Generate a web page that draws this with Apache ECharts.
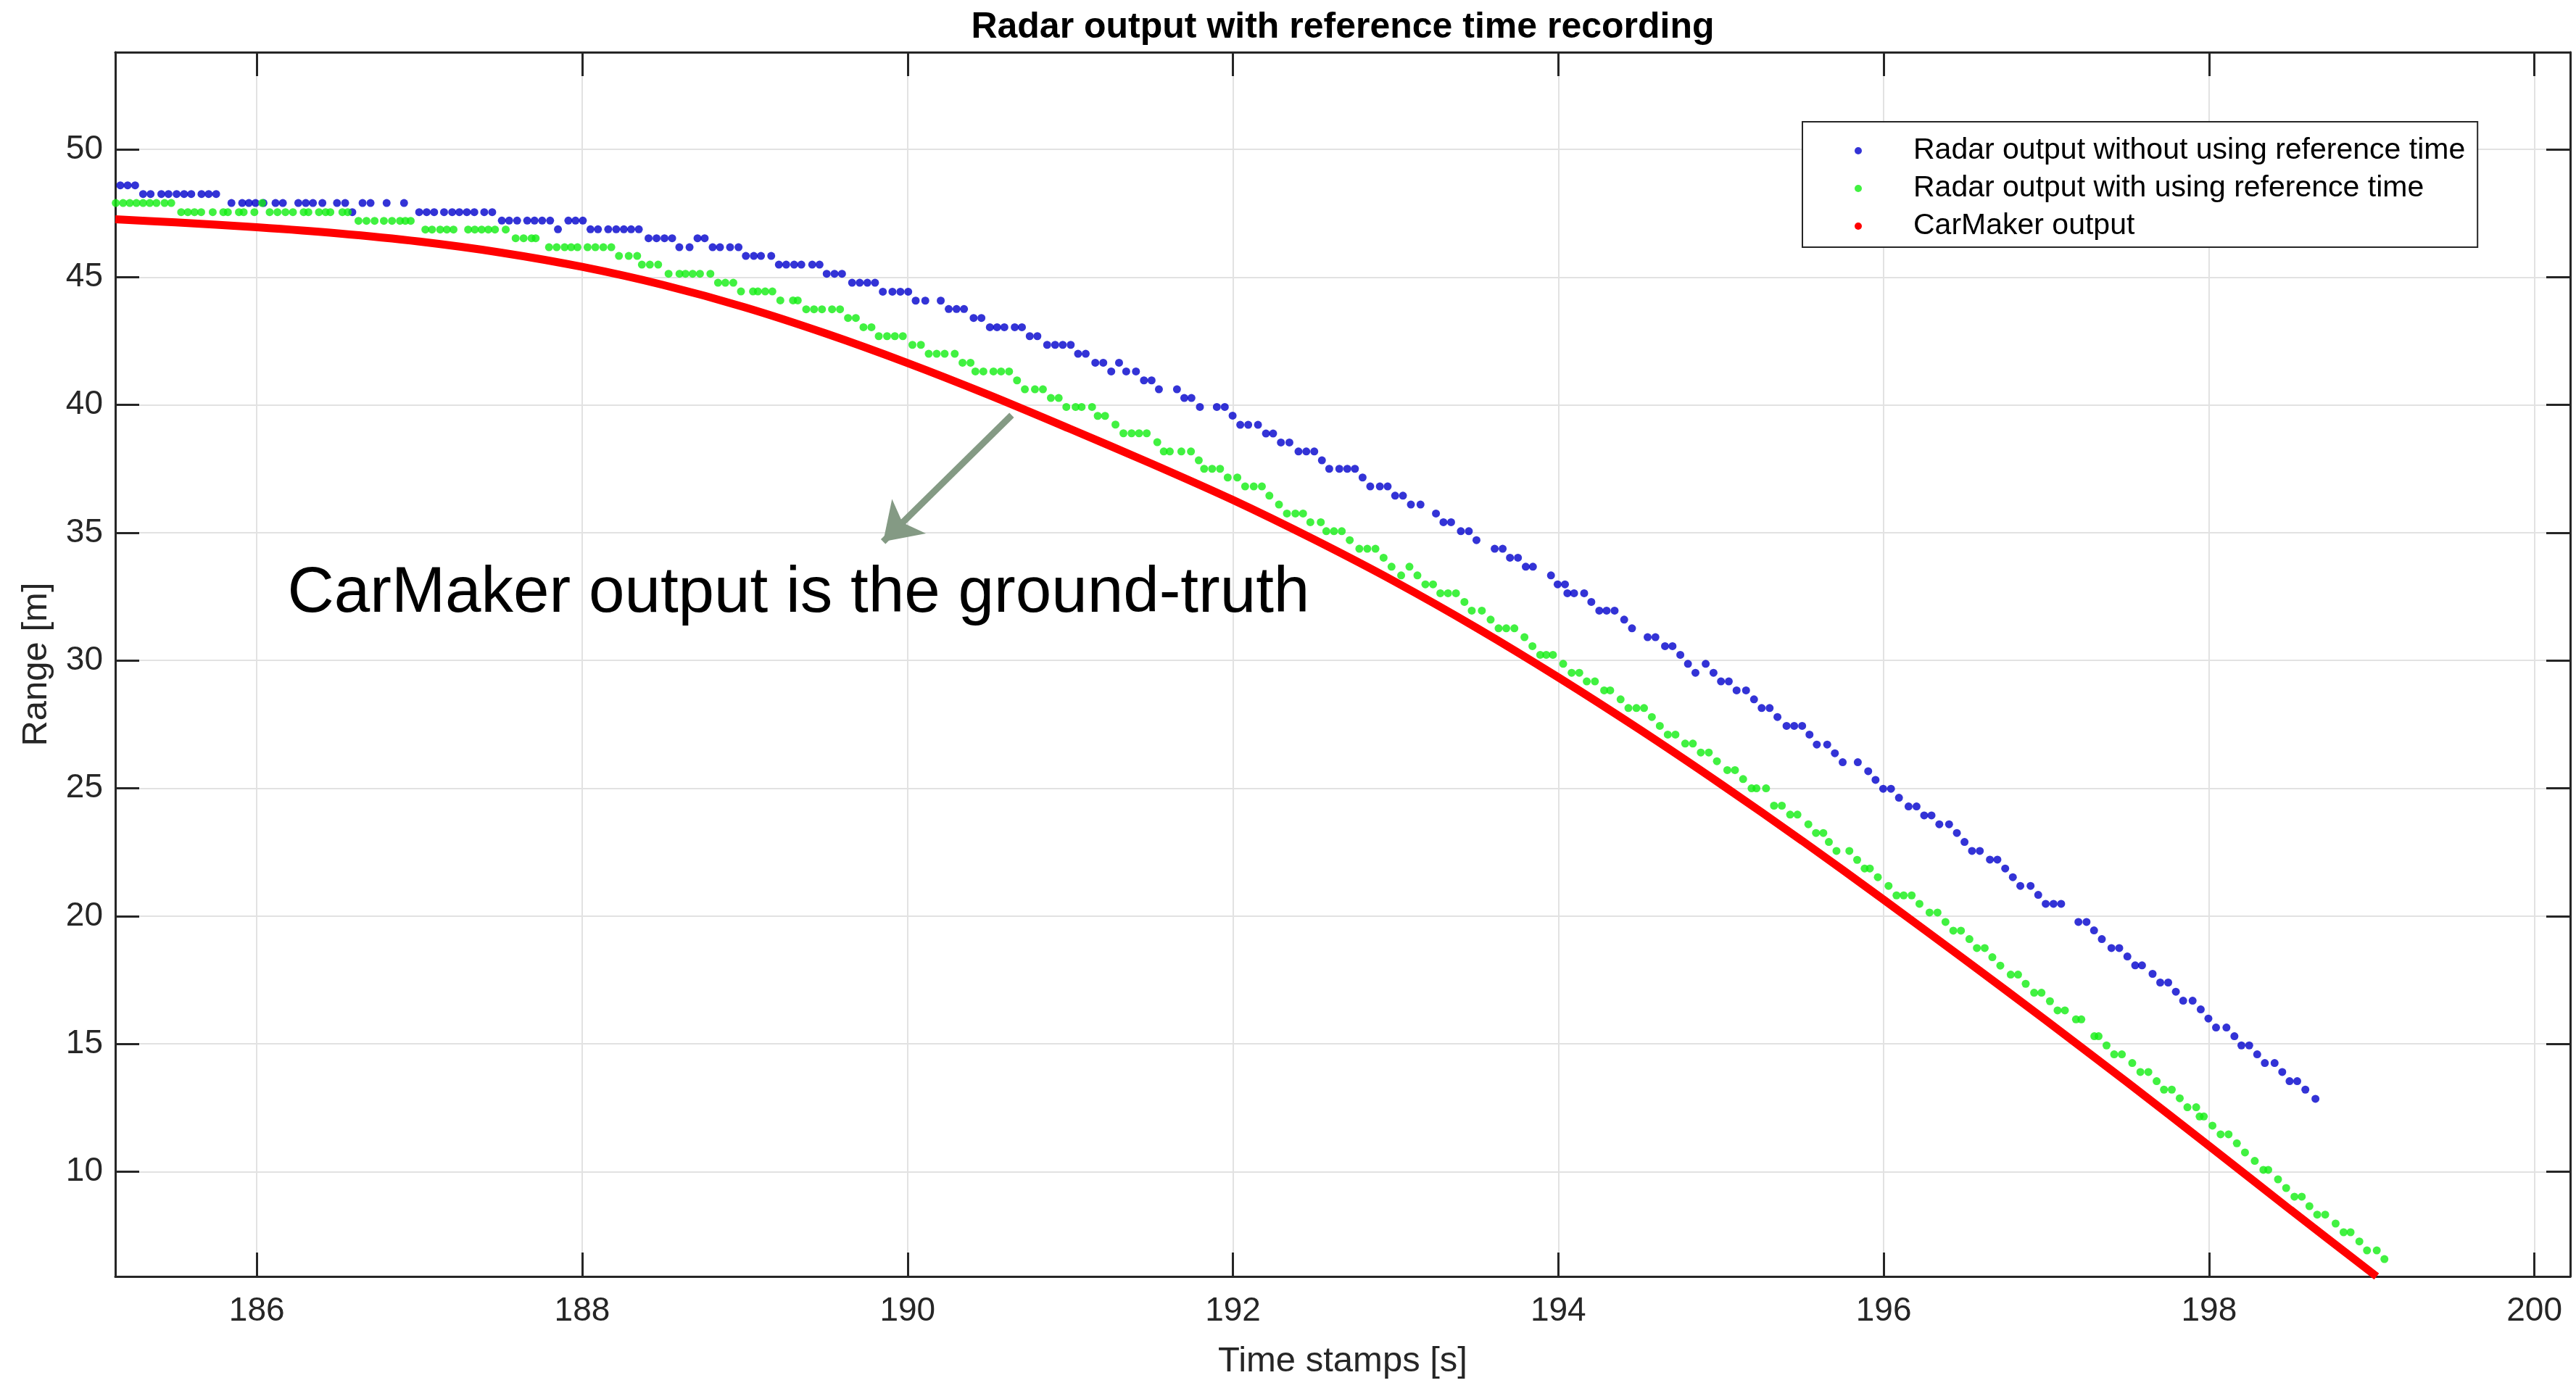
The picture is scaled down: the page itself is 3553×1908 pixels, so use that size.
<!DOCTYPE html>
<html><head><meta charset="utf-8">
<script src="https://cdn.jsdelivr.net/npm/echarts@6/dist/echarts.min.js"></script>
<style>html,body{margin:0;padding:0;background:#fff}#c{width:3553px;height:1908px}</style>
</head><body><div id="c"></div>
<script>
const chartTitle = 'Radar output with reference time recording';
const xName = 'Time stamps [s]';
const yName = 'Range [m]';
const seriesNames = ['Radar output without using reference time', 'Radar output with using reference time', 'CarMaker output'];
const annotationText = 'CarMaker output is the ground-truth';
const xLimits = [185.13, 200.22];
const yLimits = [5.9, 53.8];
const xTicks = [186, 188, 190, 192, 194, 196, 198, 200];
const yTicks = [10, 15, 20, 25, 30, 35, 40, 45, 50];
const annotationAnchor = [189.33, 32.6];
const arrowTail = [190.64, 39.6];
const arrowHead = [189.85, 34.65];

// [time s, range m]
const radarNoRef = [
[185.161,48.59],[185.206,48.59],[185.252,48.59],
[185.301,48.25],[185.347,48.25],[185.413,48.25],[185.457,48.25],[185.507,48.25],[185.553,48.25],[185.597,48.25],[185.660,48.25],[185.704,48.25],[185.750,48.25],
[185.844,47.90],[185.910,47.90],[185.951,47.90],[185.992,47.90],[186.041,47.90],[186.115,47.90],[186.160,47.90],[186.255,47.90],[186.301,47.90],[186.345,47.90],[186.403,47.90],[186.493,47.90],[186.543,47.90],[186.650,47.90],[186.699,47.90],[186.798,47.90],[186.905,47.90],
[186.587,47.54],[186.998,47.54],[187.044,47.54],[187.090,47.54],[187.151,47.54],[187.201,47.54],[187.245,47.54],[187.291,47.54],[187.337,47.54],[187.398,47.54],[187.447,47.54],
[187.506,47.21],[187.551,47.21],[187.600,47.21],[187.662,47.21],[187.707,47.21],[187.754,47.21],[187.803,47.21],[187.915,47.21],[187.959,47.21],[188.004,47.21],
[187.851,46.87],[188.051,46.87],[188.097,46.87],[188.160,46.87],[188.209,46.87],[188.256,46.87],[188.301,46.87],[188.348,46.87],
[188.408,46.52],[188.457,46.52],[188.506,46.52],[188.553,46.52],[188.709,46.52],[188.753,46.52],
[188.597,46.17],[188.660,46.17],[188.802,46.17],[188.847,46.17],[188.909,46.17],[188.961,46.17],
[189.006,45.83],[189.055,45.83],[189.099,45.83],[189.162,45.83],
[189.209,45.49],[189.254,45.49],[189.303,45.49],[189.347,45.49],[189.414,45.49],[189.459,45.49],
[189.503,45.13],[189.551,45.13],[189.597,45.13],
[189.659,44.78],[189.706,44.78],[189.753,44.78],[189.800,44.78],
[189.848,44.43],[189.907,44.43],[189.956,44.43],[190.004,44.43],
[190.050,44.08],[190.109,44.08],[190.204,44.08],
[190.253,43.75],[190.301,43.75],[190.347,43.75],
[190.406,43.40],[190.454,43.40],
[190.506,43.04],[190.550,43.04],[190.595,43.04],[190.659,43.04],[190.703,43.04],
[190.751,42.69],[190.798,42.69],
[190.858,42.35],[190.907,42.35],[190.954,42.35],[191.003,42.35],
[191.048,42.00],[191.095,42.00],
[191.154,41.65],[191.203,41.65],[191.300,41.65],
[191.252,41.31],[191.344,41.31],[191.404,41.31],
[191.453,40.96],[191.500,40.96],
[191.545,40.61],[191.656,40.61],
[191.701,40.27],[191.745,40.27],
[191.797,39.92],[191.901,39.92],[191.950,39.92],
[191.998,39.58],
[192.045,39.22],[192.094,39.22],[192.154,39.22],
[192.203,38.88],[192.247,38.88],
[192.295,38.53],[192.347,38.53],
[192.403,38.18],[192.451,38.18],[192.500,38.18],
[192.547,37.83],
[192.592,37.50],[192.654,37.50],[192.703,37.50],[192.750,37.50],
[192.797,37.16],
[192.844,36.81],[192.903,36.81],[192.951,36.81],
[192.997,36.45],[193.045,36.45],
[193.094,36.10],[193.153,36.10],
[193.248,35.75],
[193.294,35.41],[193.341,35.41],
[193.401,35.06],[193.450,35.06],
[193.497,34.71],
[193.609,34.37],[193.658,34.37],
[193.703,34.02],[193.752,34.02],
[193.800,33.67],[193.844,33.67],
[193.955,33.33],
[193.996,32.98],[194.041,32.98],
[194.056,32.63],[194.097,32.63],[194.159,32.63],
[194.203,32.29],
[194.252,31.95],[194.297,31.95],[194.346,31.95],
[194.405,31.60],
[194.453,31.26],
[194.549,30.91],[194.597,30.91],
[194.656,30.56],[194.702,30.56],
[194.750,30.22],
[194.797,29.87],[194.906,29.87],
[194.843,29.52],[194.954,29.52],
[195.000,29.18],[195.048,29.18],
[195.096,28.83],[195.154,28.83],
[195.203,28.48],
[195.250,28.14],[195.299,28.14],
[195.347,27.79],
[195.403,27.44],[195.450,27.44],[195.499,27.44],
[195.544,27.10],
[195.589,26.71],[195.653,26.71],
[195.700,26.37],
[195.748,26.02],[195.841,26.02],
[195.905,25.67],
[195.950,25.33],
[195.997,24.98],[196.045,24.98],
[196.094,24.63],
[196.153,24.29],[196.202,24.29],
[196.249,23.94],[196.294,23.94],
[196.342,23.59],[196.402,23.59],
[196.450,23.25],
[196.497,22.90],
[196.543,22.55],[196.591,22.55],
[196.653,22.21],[196.699,22.21],
[196.747,21.86],
[196.794,21.52],
[196.840,21.18],[196.903,21.18],
[196.950,20.83],
[196.996,20.48],[197.044,20.48],[197.091,20.48],
[197.197,19.77],[197.247,19.77],
[197.293,19.44],
[197.341,19.10],
[197.400,18.75],[197.448,18.75],
[197.498,18.42],
[197.546,18.07],[197.588,18.07],
[197.653,17.74],
[197.700,17.40],[197.749,17.40],
[197.796,17.04],
[197.841,16.69],[197.899,16.69],
[197.949,16.35],
[197.996,15.99],
[198.043,15.64],[198.107,15.64],
[198.156,15.30],
[198.199,14.94],[198.247,14.94],
[198.296,14.59],
[198.343,14.25],[198.403,14.25],
[198.450,13.90],
[198.495,13.54],[198.542,13.54],
[198.592,13.21],
[198.654,12.85]
];

const radarRef = [
[185.133,47.90],[185.178,47.90],[185.219,47.90],[185.260,47.90],[185.301,47.90],[185.342,47.90],[185.383,47.90],[185.433,47.90],[185.474,47.90],[186.033,47.90],
[185.535,47.54],[185.576,47.54],[185.617,47.54],[185.658,47.54],[185.729,47.54],[185.794,47.54],[185.822,47.54],[185.890,47.54],[185.919,47.54],[185.985,47.54],[186.079,47.54],[186.127,47.54],[186.176,47.54],[186.222,47.54],[186.288,47.54],[186.317,47.54],[186.382,47.54],[186.423,47.54],[186.452,47.54],[186.526,47.54],[186.559,47.54],
[186.625,47.20],[186.674,47.20],[186.724,47.20],[186.781,47.20],[186.831,47.20],[186.880,47.20],[186.913,47.20],[186.946,47.20],
[187.036,46.86],[187.077,46.86],[187.127,46.86],[187.168,46.86],[187.209,46.86],[187.299,46.86],[187.340,46.86],[187.382,46.86],[187.423,46.86],[187.464,46.86],[187.530,46.86],
[187.591,46.52],[187.640,46.52],[187.689,46.52],[187.714,46.52],
[187.796,46.17],[187.843,46.17],[187.892,46.17],[187.932,46.17],[187.971,46.17],[188.033,46.17],[188.081,46.17],[188.130,46.17],[188.179,46.17],
[188.226,45.83],[188.286,45.83],[188.338,45.83],
[188.367,45.49],[188.416,45.49],[188.467,45.49],
[188.531,45.13],[188.598,45.13],[188.635,45.13],[188.679,45.13],[188.724,45.13],[188.788,45.13],
[188.835,44.78],[188.880,44.78],[188.929,44.78],
[188.976,44.44],[189.050,44.44],[189.080,44.44],[189.125,44.44],[189.169,44.44],
[189.218,44.09],[189.296,44.09],[189.325,44.09],
[189.377,43.74],[189.425,43.74],[189.474,43.74],[189.536,43.74],[189.585,43.74],
[189.634,43.40],[189.682,43.40],
[189.729,43.04],[189.778,43.04],
[189.823,42.69],[189.874,42.69],[189.922,42.69],[189.971,42.69],
[190.030,42.35],[190.082,42.35],
[190.130,42.00],[190.179,42.00],[190.228,42.00],[190.290,42.00],
[190.338,41.65],[190.387,41.65],
[190.417,41.31],[190.466,41.31],[190.528,41.31],[190.575,41.31],[190.624,41.31],
[190.673,40.96],
[190.721,40.61],[190.783,40.61],[190.832,40.61],
[190.881,40.27],[190.929,40.27],
[190.976,39.92],[191.033,39.92],[191.070,39.92],[191.134,39.92],
[191.169,39.57],[191.214,39.57],
[191.278,39.23],
[191.327,38.89],[191.377,38.89],[191.423,38.89],[191.470,38.89],
[191.535,38.54],
[191.575,38.18],[191.612,38.18],[191.683,38.18],[191.742,38.18],
[191.790,37.83],
[191.823,37.50],[191.872,37.50],[191.921,37.50],
[191.968,37.16],[192.027,37.16],
[192.075,36.81],[192.128,36.81],[192.178,36.81],
[192.224,36.45],
[192.283,36.10],
[192.332,35.75],[192.384,35.75],[192.431,35.75],
[192.476,35.41],[192.540,35.41],
[192.574,35.06],[192.621,35.06],[192.669,35.06],
[192.718,34.71],
[192.777,34.37],[192.826,34.37],[192.876,34.37],
[192.926,34.02],
[192.975,33.67],[193.085,33.67],
[193.034,33.33],[193.134,33.33],
[193.183,32.98],[193.230,32.98],
[193.275,32.63],[193.322,32.63],[193.371,32.63],
[193.423,32.29],
[193.468,31.95],[193.530,31.95],
[193.584,31.60],
[193.633,31.26],[193.680,31.26],[193.730,31.26],
[193.792,30.91],
[193.841,30.56],
[193.889,30.22],[193.926,30.22],[193.967,30.22],
[194.030,29.87],
[194.082,29.52],[194.129,29.52],
[194.175,29.18],[194.225,29.18],
[194.282,28.83],[194.319,28.83],
[194.383,28.48],
[194.431,28.14],[194.480,28.14],[194.527,28.14],
[194.575,27.79],
[194.624,27.44],
[194.673,27.10],[194.720,27.10],
[194.780,26.75],[194.827,26.75],
[194.876,26.40],[194.925,26.40],
[194.975,26.06],
[195.039,25.71],[195.086,25.71],
[195.136,25.36],
[195.188,25.00],[195.218,25.00],[195.277,25.00],
[195.326,24.32],[195.374,24.32],
[195.425,23.97],[195.470,23.97],
[195.537,23.59],
[195.584,23.25],[195.629,23.25],
[195.663,22.90],
[195.710,22.55],[195.789,22.55],
[195.837,22.20],
[195.883,21.86],[195.915,21.86],
[195.964,21.52],
[196.030,21.18],
[196.079,20.81],[196.123,20.81],[196.172,20.81],
[196.220,20.48],
[196.282,20.14],[196.331,20.14],
[196.380,19.77],
[196.428,19.43],[196.475,19.43],
[196.527,19.10],
[196.573,18.75],[196.621,18.75],
[196.668,18.39],
[196.717,18.06],
[196.781,17.71],[196.826,17.71],
[196.873,17.35],
[196.925,17.00],[196.970,17.00],
[197.022,16.67],
[197.069,16.31],[197.114,16.31],
[197.182,15.96],[197.215,15.96],
[197.295,15.30],[197.321,15.30],
[197.370,14.94],
[197.417,14.59],[197.464,14.59],
[197.528,14.25],
[197.578,13.90],[197.627,13.90],
[197.678,13.54],
[197.723,13.21],[197.771,13.21],
[197.820,12.87],
[197.867,12.52],[197.921,12.52],
[197.942,12.16],[197.968,12.16],
[198.021,11.80],
[198.071,11.46],[198.120,11.46],
[198.171,11.11],
[198.221,10.75],
[198.281,10.42],
[198.334,10.07],[198.364,10.07],
[198.424,9.70],
[198.474,9.36],
[198.525,9.02],[198.570,9.02],
[198.617,8.65],
[198.665,8.32],[198.714,8.32],
[198.778,7.97],
[198.827,7.63],[198.870,7.63],
[198.924,7.27],
[198.971,6.92],[199.031,6.92],
[199.078,6.58]
];

const carMakerTime  = [185.13, 185.50, 186.00, 186.50, 187.00, 187.50, 188.00, 188.50, 189.00, 189.50, 190.00, 190.50, 191.00, 191.50, 192.00, 192.50, 193.00, 193.50, 194.00, 194.50, 195.00, 195.50, 196.00, 196.50, 197.00, 197.50, 198.00, 198.50, 199.03];
const carMakerRange = [47.26, 47.14, 46.95, 46.71, 46.39, 45.96, 45.40, 44.69, 43.82, 42.79, 41.64, 40.39, 39.06, 37.70, 36.28, 34.73, 33.07, 31.27, 29.34, 27.30, 25.16, 22.94, 20.64, 18.29, 15.91, 13.48, 11.01, 8.51, 5.90];

const FONT = '"Liberation Sans", Arial, Helvetica, sans-serif';
const AX = '#262626';
const GRID = '#e2e2e2';
const chart = echarts.init(document.getElementById('c'), null, {renderer: 'canvas', width: 3553, height: 1908});

function xAxisCfg(pos, main) {
  return {
    type: 'value', gridIndex: 0, position: pos, min: xLimits[0], max: xLimits[1], splitNumber: 7,
    name: main ? xName : '', nameLocation: 'middle', nameGap: 93,
    nameTextStyle: {fontFamily: FONT, fontSize: 49, color: AX},
    axisLine: {show: true, onZero: false, lineStyle: {color: AX, width: 3}},
    axisTick: {show: true, inside: true, length: 33, customValues: xTicks, lineStyle: {color: AX, width: 3}},
    axisLabel: {show: main, customValues: xTicks, margin: 25, fontFamily: FONT, fontSize: 46, color: AX},
    splitLine: {show: main, lineStyle: {color: GRID, width: 2}}
  };
}
function yAxisCfg(pos, main) {
  return {
    type: 'value', gridIndex: 0, position: pos, min: yLimits[0], max: yLimits[1], splitNumber: 10,
    name: main ? yName : '', nameLocation: 'middle', nameGap: 84, nameRotate: 90,
    nameTextStyle: {fontFamily: FONT, fontSize: 49, color: AX},
    axisLine: {show: true, onZero: false, lineStyle: {color: AX, width: 3}},
    axisTick: {show: true, inside: true, length: 33, customValues: yTicks, lineStyle: {color: AX, width: 3}},
    axisLabel: {show: main, customValues: yTicks, margin: 17, fontFamily: FONT, fontSize: 46, color: AX},
    splitLine: {show: main, lineStyle: {color: GRID, width: 2}}
  };
}

const option = {
  animation: false,
  backgroundColor: '#ffffff',
  title: {text: chartTitle, left: 1847, top: 8, textAlign: 'center',
    textStyle: {fontFamily: FONT, fontSize: 50, fontWeight: 'bold', color: '#000'}},
  grid: {left: 159, right: 8, top: 72, bottom: 147, containLabel: false},
  legend: {
    orient: 'vertical', left: 2486, top: 168,
    padding: [18, 17, 7, 72],
    backgroundColor: '#fff', borderColor: AX, borderWidth: 2, borderRadius: 0,
    itemWidth: 10, itemHeight: 10, itemGap: 8,
    itemStyle: {borderWidth: 0},
    textStyle: {fontFamily: FONT, fontSize: 41, lineHeight: 44, color: '#000', padding: [0, 0, 0, 66]},
    selectedMode: false,
    data: seriesNames.map(n => ({name: n, icon: 'circle'}))
  },
  xAxis: [xAxisCfg('bottom', true), xAxisCfg('top', false)],
  yAxis: [yAxisCfg('left', true), yAxisCfg('right', false)],
  series: [
    {name: seriesNames[0], type: 'scatter', xAxisIndex: 0, yAxisIndex: 0, symbol: 'circle', symbolSize: 11,
      itemStyle: {color: '#0000cc'}, data: radarNoRef, z: 2},
    {name: seriesNames[1], type: 'scatter', xAxisIndex: 0, yAxisIndex: 0, symbol: 'circle', symbolSize: 11,
      itemStyle: {color: '#11ee11'}, data: radarRef, z: 3},
    {name: seriesNames[2], type: 'line', xAxisIndex: 0, yAxisIndex: 0, showSymbol: false, symbol: 'none',
      smooth: 0.3, color: '#ff0000',
      lineStyle: {color: '#ff0000', width: 11}, itemStyle: {color: '#ff0000'},
      data: carMakerTime.map((t, i) => [t, carMakerRange[i]]), z: 4,
      markLine: {
        silent: true, animation: false, symbolSize: 50,
        lineStyle: {color: '#849a84', width: 9, type: 'solid', opacity: 1},
        label: {show: false}, emphasis: {disabled: true},
        data: [[{coord: arrowTail, symbol: 'none'}, {coord: arrowHead, symbol: 'arrow', symbolSize: 50}]]
      },
      markPoint: {
        silent: true, animation: false, symbol: 'rect', symbolSize: 1,
        itemStyle: {color: 'rgba(0,0,0,0)'},
        label: {show: true, position: 'inside', formatter: annotationText, fontFamily: FONT, fontSize: 89, color: '#000'},
        data: [{coord: annotationAnchor}]
      }
    }
  ]
};
chart.setOption(option);
</script>
</body></html>
